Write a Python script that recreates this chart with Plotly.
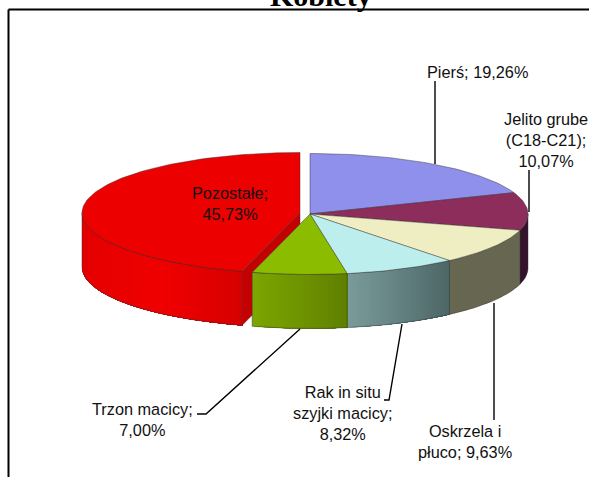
import math
import plotly.graph_objects as go

categories = ["Pierś", "Jelito grube (C18-C21)", "Oskrzela i płuco", "Rak in situ szyjki macicy", "Trzon macicy", "Pozostałe"]
values = [19.26, 10.07, 9.63, 8.32, 7.00, 45.73]
value_labels = ["19,26%", "10,07%", "9,63%", "8,32%", "7,00%", "45,73%"]
top_colors = ["#8F8FEC", "#8C2D5C", "#EEEEC2", "#BDEEEE", "#8CBC00", "#EC0000"]
side_left = ["#8F8FEC", "#35122C", "#676751", "#7B9B9B", "#7CA600", "#E40000"]
side_mid = ["#8F8FEC", "#35122C", "#676751", "#648282", "#6F9400", "#F00000"]
side_right = ["#8F8FEC", "#35122C", "#676751", "#4D6666", "#5F7F00", "#D60000"]
cut_face_color = "#C40000"
title_text = "Kobiety"

# layout of the pseudo-3D pie, in page pixels
CX, CY, RX, RY, DEPTH = 310, 214, 218, 60.5, 54
EXPLODE_X, EXPLODE_Y = -10, -1
EDGE = "rgba(50,50,50,0.65)"
FONT = "Liberation Sans"
FS = 16.3

fig = go.Figure()
total = sum(values)


def pt(a, cx, cy, dz=0):
    return cx + RX * math.sin(a), cy - RY * math.cos(a) + dz


def arc(a0, a1, cx, cy, dz=0, n=None):
    n = n or max(2, int(abs(a1 - a0) / (2 * math.pi) * 240) + 1)
    return [pt(a0 + (a1 - a0) * i / n, cx, cy, dz) for i in range(n + 1)]


def poly(points, fill, line=None, width=0.8):
    xs = [p[0] for p in points] + [points[0][0]]
    ys = [p[1] for p in points] + [points[0][1]]
    if line is None:
        fig.add_trace(go.Scatter(x=xs, y=ys, mode="none", fill="toself", fillcolor=fill,
                                 hoverinfo="skip", showlegend=False))
    else:
        fig.add_trace(go.Scatter(x=xs, y=ys, mode="lines", fill="toself", fillcolor=fill,
                                 line=dict(color=line, width=width), hoverinfo="skip", showlegend=False))


def lerp_color(c0, c1, t):
    a = [int(c0[i:i + 2], 16) for i in (1, 3, 5)]
    b = [int(c1[i:i + 2], 16) for i in (1, 3, 5)]
    return "#%02X%02X%02X" % tuple(round(u + (v - u) * t) for u, v in zip(a, b))


def grad(s, m, e, t):
    return lerp_color(s, m, t * 2) if t < 0.5 else lerp_color(m, e, t * 2 - 1)


def side(a0, a1, cx, cy, s, m, e, strips=40):
    """Rim of a slice, shaded left to right on screen; each strip overlaps the next."""
    lo, hi = max(a0, math.pi / 2), min(a1, 3 * math.pi / 2)
    if lo >= hi:
        return
    xl, xr = pt(hi, cx, cy)[0], pt(lo, cx, cy)[0]
    if s == m == e:
        strips = 1
    for k in range(strips):
        u = hi - (hi - lo) * k / strips
        um = hi - (hi - lo) * (k + 0.5) / strips
        t = (pt(um, cx, cy)[0] - xl) / (xr - xl)
        poly(arc(u, lo, cx, cy) + arc(lo, u, cx, cy, DEPTH), grad(s, m, e, t))
    poly(arc(lo, hi, cx, cy) + arc(hi, lo, cx, cy, DEPTH), "rgba(0,0,0,0)", EDGE, 0.7)


# angles of every slice, clockwise from twelve o'clock
angles, acc = [], 0.0
for v in values:
    angles.append((acc / total * 2 * math.pi, (acc + v) / total * 2 * math.pi))
    acc += v

# exploded slice (Pozostałe) drawn first, the rest of the pie overlaps it
i = 5
a0, a1 = angles[i]
rcx, rcy = CX + EXPLODE_X, CY + EXPLODE_Y
px0, py0 = pt(a0, rcx, rcy)
poly([(rcx, rcy), (px0, py0), (px0, py0 + DEPTH), (rcx, rcy + DEPTH)], cut_face_color, EDGE, 0.7)
side(a0, a1, rcx, rcy, side_left[i], side_mid[i], side_right[i], strips=60)
poly([(rcx, rcy)] + arc(a0, a1, rcx, rcy), top_colors[i], EDGE, 0.7)

# remaining slices: rims first, then tops
for i in range(5):
    side(angles[i][0], angles[i][1], CX, CY, side_left[i], side_mid[i], side_right[i])
for i in range(5):
    poly([(CX, CY)] + arc(angles[i][0], angles[i][1], CX, CY), top_colors[i], EDGE, 0.7)


def leader(xs, ys, width=1.4, color="#000000"):
    fig.add_trace(go.Scatter(x=xs, y=ys, mode="lines", line=dict(color=color, width=width),
                             hoverinfo="skip", showlegend=False))


# chart frame, open to the right and the bottom of the crop
leader([8.5, 8.5], [477, 9.5], 2, "#000000")
leader([8.5, 589], [9.5, 9.5], 2, "#000000")

# leader lines
leader([435, 435], [81, 164])
leader([529, 529], [170, 212])
leader([494, 494], [303, 420])
leader([402, 389, 384], [324, 400, 400])
leader([300, 206, 197], [329, 414, 414])


def label(lines, x, y):
    fig.add_annotation(x=x, y=y, xref="x", yref="y", text="<br>".join(lines), showarrow=False,
                       align="center", xanchor="center", yanchor="middle",
                       font=dict(family=FONT, size=FS, color="#111111"))


label([categories[0] + "; " + value_labels[0]], 477, 72)
label(["Jelito grube", "(C18-C21);", value_labels[1]], 546, 140)
label([categories[5] + ";", value_labels[5]], 230, 203)
label([categories[4] + ";", value_labels[4]], 142, 419)
label(["Rak in situ", "szyjki macicy;", value_labels[3]], 343, 413)
label(["Oskrzela i", "płuco; " + value_labels[2]], 465, 441)

fig.add_annotation(x=321, y=14, xref="x", yref="y", text="<b>" + title_text + "</b>", showarrow=False,
                   xanchor="center", yanchor="bottom", font=dict(family="Liberation Serif", size=30, color="#000000"))

fig.update_layout(
    width=589, height=477, margin=dict(l=0, r=0, t=0, b=0),
    paper_bgcolor="white", plot_bgcolor="white", showlegend=False,
    xaxis=dict(range=[0, 589], visible=False, fixedrange=True),
    yaxis=dict(range=[477, 0], visible=False, fixedrange=True),
)
fig.write_html("out.html", config=dict(displayModeBar=False),
               post_script="document.body.style.margin='0';document.body.style.overflow='hidden';")
